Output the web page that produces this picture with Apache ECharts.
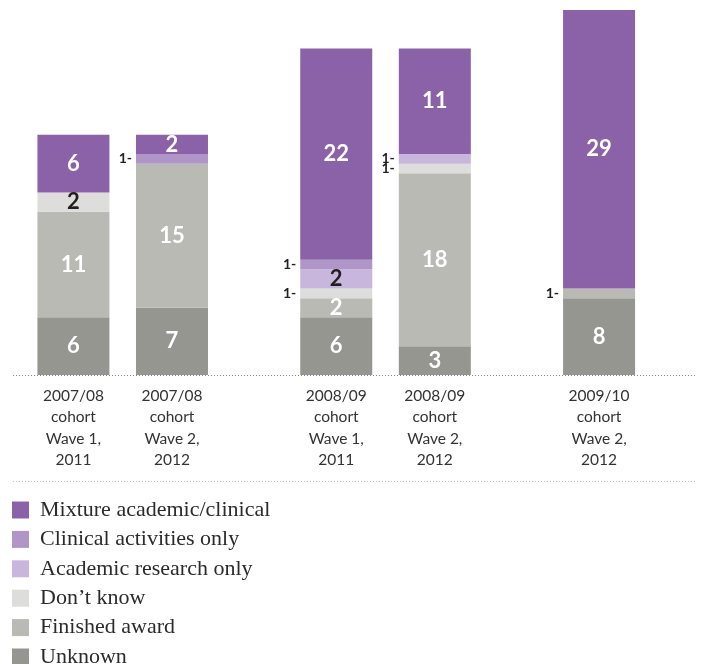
<!DOCTYPE html>
<html>
<head>
<meta charset="utf-8">
<style>
  html, body { margin: 0; padding: 0; background: #ffffff; }
  #chart { width: 704px; height: 664px; }
</style>
<script src="https://cdn.jsdelivr.net/npm/echarts@6/dist/echarts.min.js"></script>
</head>
<body>
<div id="chart"></div>
<script>
// Cohort / wave groups along the x axis
const categories = [
  '2007/08\ncohort\nWave 1,\n2011',
  '2007/08\ncohort\nWave 2,\n2012',
  '2008/09\ncohort\nWave 1,\n2011',
  '2008/09\ncohort\nWave 2,\n2012',
  '2009/10\ncohort\nWave 2,\n2012'
];

// Counts per activity, bottom of the stack first
const unknown      = [6, 7, 6, 3, 8];
const finished     = [11, 15, 2, 18, 1];
const dontKnow     = [2, 0, 1, 1, 0];
const academicOnly = [0, 0, 2, 1, 0];
const clinicalOnly = [0, 1, 1, 0, 0];
const mixture      = [6, 2, 22, 11, 29];

const seriesNames = [
  'Unknown',
  'Finished award',
  "Don\u2019t know",
  'Academic research only',
  'Clinical activities only',
  'Mixture academic/clinical'
];
const seriesValues = [unknown, finished, dontKnow, academicOnly, clinicalOnly, mixture];
const seriesColors = ['#959690', '#b9bab4', '#dddddb', '#c9b6dc', '#b096c8', '#8b62a8'];
const labelColors  = ['#ffffff', '#ffffff', '#231f20', '#231f20', '#ffffff', '#ffffff'];

// Narrow category slots so groups sit further apart than bars within a group
const slotOfBar = [0, 3, 8, 11, 16];
const slotCount = 17;

const slotLabels = new Array(slotCount).fill('');
slotOfBar.forEach((s, i) => { slotLabels[s] = categories[i]; });

function slotData(values, textColor) {
  const out = new Array(slotCount).fill(0);
  values.forEach((v, i) => {
    const item = { value: v };
    if (v === 1) {
      item.label = {
        show: true, position: 'left', distance: 4,
        formatter: '1-', color: '#231f20', fontSize: 14, fontWeight: 'bold'
      };
    } else if (v > 1) {
      item.label = {
        show: true, position: 'inside', formatter: String(v),
        color: textColor, fontSize: 22, fontWeight: 'bold'
      };
    }
    out[slotOfBar[i]] = item;
  });
  return out;
}

const chart = echarts.init(document.getElementById('chart'), null, { renderer: 'canvas' });

chart.setOption({
  animation: false,
  backgroundColor: '#ffffff',
  textStyle: { fontFamily: 'Lato, "Open Sans", sans-serif' },
  grid: { left: 57, right: 88.5, top: 10, bottom: 289, containLabel: false },
  xAxis: {
    type: 'category',
    data: slotLabels,
    axisLine: { show: false },
    axisTick: { show: false },
    axisLabel: {
      interval: 0,
      margin: 10,
      color: '#333333',
      fontSize: 15.5,
      lineHeight: 21.5,
      fontFamily: 'Lato, "Open Sans", sans-serif'
    }
  },
  yAxis: {
    type: 'value',
    min: 0,
    max: 38,
    show: false,
    splitLine: { show: false }
  },
  legend: {
    orient: 'vertical',
    left: 12,
    top: 499,
    height: 200,
    padding: 0,
    itemWidth: 17,
    itemHeight: 17,
    itemGap: 7.4,
    icon: 'rect',
    data: seriesNames.slice().reverse(),
    textStyle: {
      fontFamily: '"Liberation Serif", "DejaVu Serif", serif',
      fontSize: 22,
      lineHeight: 22,
      color: '#2b2b2b',
      padding: [0, 0, 0, 6]
    }
  },
  graphic: [
    {
      type: 'line',
      shape: { x1: 13, y1: 375.5, x2: 695, y2: 375.5 },
      style: { stroke: '#8c8098', lineWidth: 1, lineDash: [1, 2] },
      z: 10
    },
    {
      type: 'line',
      shape: { x1: 13, y1: 481.5, x2: 695, y2: 481.5 },
      style: { stroke: '#bdbdbd', lineWidth: 1, lineDash: [1, 2] }
    }
  ],
  series: seriesNames.map((name, k) => ({
    name: name,
    type: 'bar',
    stack: 'total',
    clip: false,
    barWidth: 72,
    barMinWidth: 72,
    barMaxWidth: 72,
    itemStyle: { color: seriesColors[k] },
    labelLayout: { hideOverlap: false },
    data: slotData(seriesValues[k], labelColors[k])
  }))
});
</script>
</body>
</html>
